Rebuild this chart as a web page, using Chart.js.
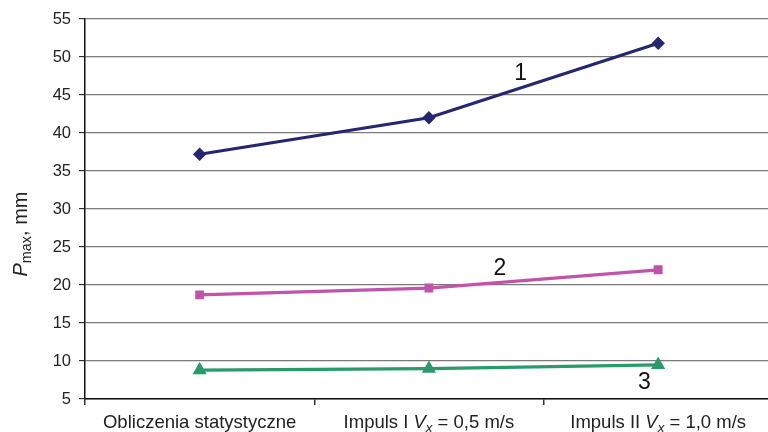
<!DOCTYPE html>
<html>
<head>
<meta charset="utf-8">
<script src="https://cdn.jsdelivr.net/npm/chart.js@4.4.1/dist/chart.umd.min.js"></script>
<style>
  html, body { margin: 0; padding: 0; background: #fff; overflow: hidden; }
  #wrap { width: 781px; height: 432px; position: relative; }
</style>
</head>
<body>
<div id="wrap"><canvas id="chart"></canvas></div>
<script>
// categories (rich text parts: [text, italic, subscript])
const categories = [
  [['Obliczenia statystyczne', false, false]],
  [['Impuls I ', false, false], ['V', true, false], ['x', true, true], [' = 0,5 m/s', false, false]],
  [['Impuls II ', false, false], ['V', true, false], ['x', true, true], [' = 1,0 m/s', false, false]]
];
const series1 = [37.2, 42.0, 51.8];
const series2 = [18.7, 19.6, 22.0];
const series3 = [8.8, 9.0, 9.5];
const yTicks = [5, 10, 15, 20, 25, 30, 35, 40, 45, 50, 55];
// curve numbers: [text, category position, value]
const curveLabels = [['1', 1.40, 47.8], ['2', 1.31, 22.2], ['3', 1.94, 7.1]];

const FONT = '"Liberation Sans", Arial, Helvetica, sans-serif';

function drawRich(ctx, parts, cx, cy, size) {
  const fontFor = (p) => (p[1] ? 'italic ' : '') + (p[2] ? size * 0.72 : size) + 'px ' + FONT;
  let total = 0;
  parts.forEach(p => { ctx.font = fontFor(p); total += ctx.measureText(p[0]).width; });
  let x = cx - total / 2;
  ctx.textAlign = 'left';
  ctx.textBaseline = 'middle';
  parts.forEach(p => {
    ctx.font = fontFor(p);
    ctx.fillText(p[0], x, p[2] ? cy + size * 0.3 : cy);
    x += ctx.measureText(p[0]).width;
  });
}

const extras = {
  id: 'extras',
  afterDraw(chart) {
    const ctx = chart.ctx;
    const xs = chart.scales.x, ys = chart.scales.y;
    ctx.save();
    ctx.fillStyle = '#222';
    categories.forEach((parts, i) => {
      drawRich(ctx, parts, xs.getPixelForValue(i), 423, 18.5);
    });
    ctx.fillStyle = '#111';
    ctx.font = '23px ' + FONT;
    ctx.textAlign = 'center';
    ctx.textBaseline = 'middle';
    curveLabels.forEach(l => {
      ctx.fillText(l[0], xs.getPixelForValue(l[1]), ys.getPixelForValue(l[2]));
    });
    // y axis title
    ctx.translate(21, 234);
    ctx.rotate(-Math.PI / 2);
    ctx.fillStyle = '#222';
    drawRich(ctx, [['P', true, false], ['max', false, true], [', mm', false, false]], 0, 0, 20);
    ctx.restore();
  }
};

const common = { borderWidth: 3.2, pointRadius: 4, pointHoverRadius: 4, tension: 0, fill: false };

new Chart(document.getElementById('chart'), {
  type: 'line',
  data: {
    labels: categories.map(c => c.map(p => p[0]).join('')),
    datasets: [
      Object.assign({ label: '1', data: series1, borderColor: '#25286f', backgroundColor: '#25286f', pointStyle: 'rectRot' }, common, { pointRadius: 4.5 }),
      Object.assign({ label: '2', data: series2, borderColor: '#c153ab', backgroundColor: '#c153ab', pointStyle: 'rect' }, common),
      Object.assign({ label: '3', data: series3, borderColor: '#2a9a69', backgroundColor: '#2a9a69', pointStyle: 'triangle' }, common, { pointRadius: 5 })
    ]
  },
  options: {
    responsive: true,
    maintainAspectRatio: false,
    animation: false,
    layout: { padding: { top: 19, right: 0, left: 0, bottom: 0 } },
    plugins: { legend: { display: false }, tooltip: { enabled: false } },
    scales: {
      x: {
        type: 'category',
        offset: true,
        border: { display: true, color: '#111', width: 1.5 },
        grid: { offset: true, drawOnChartArea: false, drawTicks: true, tickLength: 6, color: '#333', lineWidth: 1.5 },
        ticks: { display: false },
        afterFit(s) { s.height = 33; }
      },
      y: {
        min: 5,
        max: 55,
        afterBuildTicks(s) { s.ticks = yTicks.map(v => ({ value: v })); },
        border: { display: true, color: '#111', width: 1.5 },
        grid: { color: '#7a7a7a', lineWidth: 1.2, tickLength: 6, tickColor: '#333' },
        ticks: { color: '#222', font: { family: FONT, size: 16.5 }, padding: 8 },
        afterFit(s) { s.width = 85; }
      }
    }
  },
  plugins: [extras]
});
</script>
</body>
</html>
